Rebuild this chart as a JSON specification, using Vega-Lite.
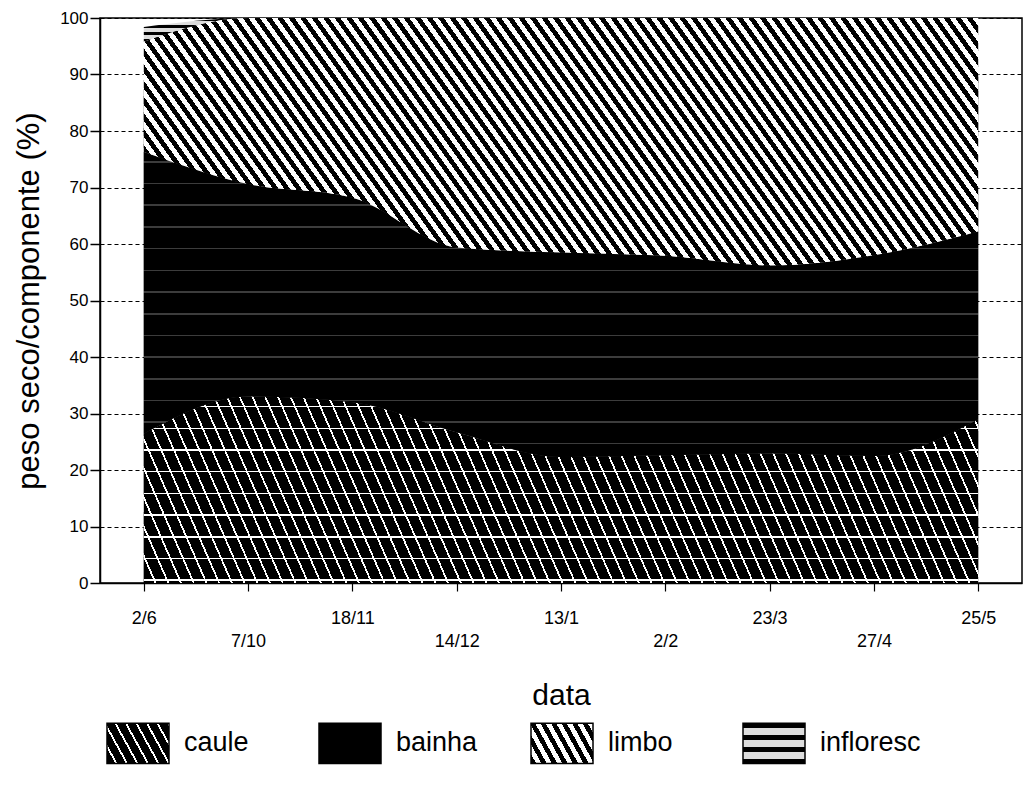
{
"$schema": "https://vega.github.io/schema/vega-lite/v6.json",
"width": 922,
"height": 565,
"autosize": {"type": "none"},
"padding": {"left": 100, "top": 18, "right": 5, "bottom": 214},
"background": "white",
"config": {
  "font": "Liberation Sans",
  "view": {"stroke": "black", "strokeWidth": 1.5},
  "axis": {"labelColor": "black", "titleColor": "black", "domainColor": "black", "tickColor": "black", "titleFontWeight": "normal", "labelFont": "Liberation Sans", "titleFont": "Liberation Sans"}
},
"data": {"values": [
  {"data": "2/6", "componente": "caule", "ordem": 1, "valor": 26.4},
  {"data": "2/6", "componente": "bainha", "ordem": 2, "valor": 49.9},
  {"data": "2/6", "componente": "limbo", "ordem": 3, "valor": 19.5},
  {"data": "2/6", "componente": "infloresc", "ordem": 4, "valor": 2.6},
  {"data": "7/10", "componente": "caule", "ordem": 1, "valor": 33.0},
  {"data": "7/10", "componente": "bainha", "ordem": 2, "valor": 37.6},
  {"data": "7/10", "componente": "limbo", "ordem": 3, "valor": 29.4},
  {"data": "7/10", "componente": "infloresc", "ordem": 4, "valor": 0},
  {"data": "18/11", "componente": "caule", "ordem": 1, "valor": 32.0},
  {"data": "18/11", "componente": "bainha", "ordem": 2, "valor": 36.2},
  {"data": "18/11", "componente": "limbo", "ordem": 3, "valor": 31.8},
  {"data": "18/11", "componente": "infloresc", "ordem": 4, "valor": 0},
  {"data": "14/12", "componente": "caule", "ordem": 1, "valor": 26.7},
  {"data": "14/12", "componente": "bainha", "ordem": 2, "valor": 32.7},
  {"data": "14/12", "componente": "limbo", "ordem": 3, "valor": 40.6},
  {"data": "14/12", "componente": "infloresc", "ordem": 4, "valor": 0},
  {"data": "13/1", "componente": "caule", "ordem": 1, "valor": 22.3},
  {"data": "13/1", "componente": "bainha", "ordem": 2, "valor": 36.2},
  {"data": "13/1", "componente": "limbo", "ordem": 3, "valor": 41.5},
  {"data": "13/1", "componente": "infloresc", "ordem": 4, "valor": 0},
  {"data": "2/2", "componente": "caule", "ordem": 1, "valor": 22.6},
  {"data": "2/2", "componente": "bainha", "ordem": 2, "valor": 35.3},
  {"data": "2/2", "componente": "limbo", "ordem": 3, "valor": 42.1},
  {"data": "2/2", "componente": "infloresc", "ordem": 4, "valor": 0},
  {"data": "23/3", "componente": "caule", "ordem": 1, "valor": 22.9},
  {"data": "23/3", "componente": "bainha", "ordem": 2, "valor": 33.3},
  {"data": "23/3", "componente": "limbo", "ordem": 3, "valor": 43.8},
  {"data": "23/3", "componente": "infloresc", "ordem": 4, "valor": 0},
  {"data": "27/4", "componente": "caule", "ordem": 1, "valor": 22.5},
  {"data": "27/4", "componente": "bainha", "ordem": 2, "valor": 35.5},
  {"data": "27/4", "componente": "limbo", "ordem": 3, "valor": 42.0},
  {"data": "27/4", "componente": "infloresc", "ordem": 4, "valor": 0},
  {"data": "25/5", "componente": "caule", "ordem": 1, "valor": 29.0},
  {"data": "25/5", "componente": "bainha", "ordem": 2, "valor": 33.2},
  {"data": "25/5", "componente": "limbo", "ordem": 3, "valor": 37.8},
  {"data": "25/5", "componente": "infloresc", "ordem": 4, "valor": 0}
]},
"transform": [{"stack": "valor", "groupby": ["data"], "sort": [{"field": "ordem", "order": "ascending"}], "as": ["v0", "v1"]}],
"encoding": {
  "x": {"field": "data", "type": "ordinal", "sort": ["2/6", "7/10", "18/11", "14/12", "13/1", "2/2", "23/3", "27/4", "25/5"], "scale": {"padding": 0.42},
    "axis": {"title": "data", "labelAngle": 0, "labelExpr": "indexof(['7/10','14/12','2/2','27/4'], datum.value) >= 0 ? ['', datum.value] : datum.value", "labelLineHeight": 23, "labelFontSize": 18, "labelPadding": 18, "tickSize": 8, "tickWidth": 1.2, "domainWidth": 1.5, "titleFontSize": 30, "titlePadding": 30, "labelBaseline": "top"}},
  "y": {"field": "v1", "type": "quantitative", "scale": {"domain": [0, 100], "nice": false},
    "axis": {"title": "peso seco/componente (%)", "values": [0, 10, 20, 30, 40, 50, 60, 70, 80, 90, 100], "grid": true, "gridColor": "black", "gridDash": [4, 3], "gridWidth": 1.2, "gridOpacity": 1, "tickSize": 10, "tickWidth": 1.5, "labelFontSize": 17, "labelPadding": 2, "domainWidth": 1.5, "titleFontSize": 31, "titlePadding": 14}},
  "y2": {"field": "v0"}
},
"layer": [
  {"mark": {"type": "area", "interpolate": "monotone"},
   "encoding": {"color": {"field": "componente", "type": "nominal", "scale": {"domain": ["caule", "bainha", "limbo", "infloresc"], "range": [
      {"expr": "{gradient:'linear',x1:0,y1:1,x2:1.204,y2:0.57,stops:[{offset:0,color:'#000'},{offset:0.1,color:'#000'},{offset:0.1,color:'#fff'},{offset:0.125,color:'#fff'},{offset:0.125,color:'#000'},{offset:0.225,color:'#000'},{offset:0.225,color:'#fff'},{offset:0.25,color:'#fff'},{offset:0.25,color:'#000'},{offset:0.35,color:'#000'},{offset:0.35,color:'#fff'},{offset:0.375,color:'#fff'},{offset:0.375,color:'#000'},{offset:0.475,color:'#000'},{offset:0.475,color:'#fff'},{offset:0.5,color:'#fff'},{offset:0.5,color:'#000'},{offset:0.6,color:'#000'},{offset:0.6,color:'#fff'},{offset:0.625,color:'#fff'},{offset:0.625,color:'#000'},{offset:0.725,color:'#000'},{offset:0.725,color:'#fff'},{offset:0.75,color:'#fff'},{offset:0.75,color:'#000'},{offset:0.85,color:'#000'},{offset:0.85,color:'#fff'},{offset:0.875,color:'#fff'},{offset:0.875,color:'#000'},{offset:0.975,color:'#000'},{offset:0.975,color:'#fff'},{offset:1,color:'#fff'}]}"},
      "#000000",
      {"expr": "{gradient:'linear',x1:0,y1:1,x2:1.204,y2:0.57,stops:[{offset:0,color:'#000'},{offset:0.0625,color:'#000'},{offset:0.0625,color:'#fff'},{offset:0.125,color:'#fff'},{offset:0.125,color:'#000'},{offset:0.1875,color:'#000'},{offset:0.1875,color:'#fff'},{offset:0.25,color:'#fff'},{offset:0.25,color:'#000'},{offset:0.3125,color:'#000'},{offset:0.3125,color:'#fff'},{offset:0.375,color:'#fff'},{offset:0.375,color:'#000'},{offset:0.4375,color:'#000'},{offset:0.4375,color:'#fff'},{offset:0.5,color:'#fff'},{offset:0.5,color:'#000'},{offset:0.5625,color:'#000'},{offset:0.5625,color:'#fff'},{offset:0.625,color:'#fff'},{offset:0.625,color:'#000'},{offset:0.6875,color:'#000'},{offset:0.6875,color:'#fff'},{offset:0.75,color:'#fff'},{offset:0.75,color:'#000'},{offset:0.8125,color:'#000'},{offset:0.8125,color:'#fff'},{offset:0.875,color:'#fff'},{offset:0.875,color:'#000'},{offset:0.9375,color:'#000'},{offset:0.9375,color:'#fff'},{offset:1,color:'#fff'}]}"},
      {"expr": "{gradient:'linear',x1:0,y1:0,x2:0,y2:1,stops:[{offset:0,color:'#000'},{offset:0.12,color:'#000'},{offset:0.12,color:'#ddd'},{offset:0.28,color:'#ddd'},{offset:0.28,color:'#000'},{offset:0.42,color:'#000'},{offset:0.42,color:'#ddd'},{offset:0.58,color:'#ddd'},{offset:0.58,color:'#000'},{offset:0.72,color:'#000'},{offset:0.72,color:'#ddd'},{offset:0.88,color:'#ddd'},{offset:0.88,color:'#000'},{offset:1,color:'#000'}]}"}
   ]},
     "legend": {"title": null, "orient": "none", "legendX": 6, "legendY": 693, "direction": "horizontal", "symbolType": "M-1,-0.65H1V0.65H-1Z", "symbolSize": 3844, "symbolStrokeColor": "black", "symbolStrokeWidth": 1.5, "symbolOpacity": 1, "labelFontSize": 27, "labelOffset": 14, "columnPadding": 31, "gridAlign": "all", "labelColor": "black", "padding": 0}}}},
  {"transform": [{"filter": "datum.componente === 'caule'"}],
   "mark": {"type": "area", "interpolate": "monotone", "fill": {"gradient": "linear", "x1": 0, "y1": 1, "x2": 1.51, "y2": 0.853, "stops": [
{"offset":0,"color":"#000"},
{"offset":0.0085,"color":"#000"},{"offset":0.0085,"color":"#fff"},{"offset":0.01,"color":"#fff"},{"offset":0.01,"color":"#000"},
{"offset":0.0185,"color":"#000"},{"offset":0.0185,"color":"#fff"},{"offset":0.02,"color":"#fff"},{"offset":0.02,"color":"#000"},
{"offset":0.0285,"color":"#000"},{"offset":0.0285,"color":"#fff"},{"offset":0.03,"color":"#fff"},{"offset":0.03,"color":"#000"},
{"offset":0.0385,"color":"#000"},{"offset":0.0385,"color":"#fff"},{"offset":0.04,"color":"#fff"},{"offset":0.04,"color":"#000"},
{"offset":0.0485,"color":"#000"},{"offset":0.0485,"color":"#fff"},{"offset":0.05,"color":"#fff"},{"offset":0.05,"color":"#000"},
{"offset":0.0585,"color":"#000"},{"offset":0.0585,"color":"#fff"},{"offset":0.06,"color":"#fff"},{"offset":0.06,"color":"#000"},
{"offset":0.0685,"color":"#000"},{"offset":0.0685,"color":"#fff"},{"offset":0.07,"color":"#fff"},{"offset":0.07,"color":"#000"},
{"offset":0.0785,"color":"#000"},{"offset":0.0785,"color":"#fff"},{"offset":0.08,"color":"#fff"},{"offset":0.08,"color":"#000"},
{"offset":0.0885,"color":"#000"},{"offset":0.0885,"color":"#fff"},{"offset":0.09,"color":"#fff"},{"offset":0.09,"color":"#000"},
{"offset":0.0985,"color":"#000"},{"offset":0.0985,"color":"#fff"},{"offset":0.1,"color":"#fff"},{"offset":0.1,"color":"#000"},
{"offset":0.1085,"color":"#000"},{"offset":0.1085,"color":"#fff"},{"offset":0.11,"color":"#fff"},{"offset":0.11,"color":"#000"},
{"offset":0.1185,"color":"#000"},{"offset":0.1185,"color":"#fff"},{"offset":0.12,"color":"#fff"},{"offset":0.12,"color":"#000"},
{"offset":0.1285,"color":"#000"},{"offset":0.1285,"color":"#fff"},{"offset":0.13,"color":"#fff"},{"offset":0.13,"color":"#000"},
{"offset":0.1385,"color":"#000"},{"offset":0.1385,"color":"#fff"},{"offset":0.14,"color":"#fff"},{"offset":0.14,"color":"#000"},
{"offset":0.1485,"color":"#000"},{"offset":0.1485,"color":"#fff"},{"offset":0.15,"color":"#fff"},{"offset":0.15,"color":"#000"},
{"offset":0.1585,"color":"#000"},{"offset":0.1585,"color":"#fff"},{"offset":0.16,"color":"#fff"},{"offset":0.16,"color":"#000"},
{"offset":0.1685,"color":"#000"},{"offset":0.1685,"color":"#fff"},{"offset":0.17,"color":"#fff"},{"offset":0.17,"color":"#000"},
{"offset":0.1785,"color":"#000"},{"offset":0.1785,"color":"#fff"},{"offset":0.18,"color":"#fff"},{"offset":0.18,"color":"#000"},
{"offset":0.1885,"color":"#000"},{"offset":0.1885,"color":"#fff"},{"offset":0.19,"color":"#fff"},{"offset":0.19,"color":"#000"},
{"offset":0.1985,"color":"#000"},{"offset":0.1985,"color":"#fff"},{"offset":0.2,"color":"#fff"},{"offset":0.2,"color":"#000"},
{"offset":0.2085,"color":"#000"},{"offset":0.2085,"color":"#fff"},{"offset":0.21,"color":"#fff"},{"offset":0.21,"color":"#000"},
{"offset":0.2185,"color":"#000"},{"offset":0.2185,"color":"#fff"},{"offset":0.22,"color":"#fff"},{"offset":0.22,"color":"#000"},
{"offset":0.2285,"color":"#000"},{"offset":0.2285,"color":"#fff"},{"offset":0.23,"color":"#fff"},{"offset":0.23,"color":"#000"},
{"offset":0.2385,"color":"#000"},{"offset":0.2385,"color":"#fff"},{"offset":0.24,"color":"#fff"},{"offset":0.24,"color":"#000"},
{"offset":0.2485,"color":"#000"},{"offset":0.2485,"color":"#fff"},{"offset":0.25,"color":"#fff"},{"offset":0.25,"color":"#000"},
{"offset":0.2585,"color":"#000"},{"offset":0.2585,"color":"#fff"},{"offset":0.26,"color":"#fff"},{"offset":0.26,"color":"#000"},
{"offset":0.2685,"color":"#000"},{"offset":0.2685,"color":"#fff"},{"offset":0.27,"color":"#fff"},{"offset":0.27,"color":"#000"},
{"offset":0.2785,"color":"#000"},{"offset":0.2785,"color":"#fff"},{"offset":0.28,"color":"#fff"},{"offset":0.28,"color":"#000"},
{"offset":0.2885,"color":"#000"},{"offset":0.2885,"color":"#fff"},{"offset":0.29,"color":"#fff"},{"offset":0.29,"color":"#000"},
{"offset":0.2985,"color":"#000"},{"offset":0.2985,"color":"#fff"},{"offset":0.3,"color":"#fff"},{"offset":0.3,"color":"#000"},
{"offset":0.3085,"color":"#000"},{"offset":0.3085,"color":"#fff"},{"offset":0.31,"color":"#fff"},{"offset":0.31,"color":"#000"},
{"offset":0.3185,"color":"#000"},{"offset":0.3185,"color":"#fff"},{"offset":0.32,"color":"#fff"},{"offset":0.32,"color":"#000"},
{"offset":0.3285,"color":"#000"},{"offset":0.3285,"color":"#fff"},{"offset":0.33,"color":"#fff"},{"offset":0.33,"color":"#000"},
{"offset":0.3385,"color":"#000"},{"offset":0.3385,"color":"#fff"},{"offset":0.34,"color":"#fff"},{"offset":0.34,"color":"#000"},
{"offset":0.3485,"color":"#000"},{"offset":0.3485,"color":"#fff"},{"offset":0.35,"color":"#fff"},{"offset":0.35,"color":"#000"},
{"offset":0.3585,"color":"#000"},{"offset":0.3585,"color":"#fff"},{"offset":0.36,"color":"#fff"},{"offset":0.36,"color":"#000"},
{"offset":0.3685,"color":"#000"},{"offset":0.3685,"color":"#fff"},{"offset":0.37,"color":"#fff"},{"offset":0.37,"color":"#000"},
{"offset":0.3785,"color":"#000"},{"offset":0.3785,"color":"#fff"},{"offset":0.38,"color":"#fff"},{"offset":0.38,"color":"#000"},
{"offset":0.3885,"color":"#000"},{"offset":0.3885,"color":"#fff"},{"offset":0.39,"color":"#fff"},{"offset":0.39,"color":"#000"},
{"offset":0.3985,"color":"#000"},{"offset":0.3985,"color":"#fff"},{"offset":0.4,"color":"#fff"},{"offset":0.4,"color":"#000"},
{"offset":0.4085,"color":"#000"},{"offset":0.4085,"color":"#fff"},{"offset":0.41,"color":"#fff"},{"offset":0.41,"color":"#000"},
{"offset":0.4185,"color":"#000"},{"offset":0.4185,"color":"#fff"},{"offset":0.42,"color":"#fff"},{"offset":0.42,"color":"#000"},
{"offset":0.4285,"color":"#000"},{"offset":0.4285,"color":"#fff"},{"offset":0.43,"color":"#fff"},{"offset":0.43,"color":"#000"},
{"offset":0.4385,"color":"#000"},{"offset":0.4385,"color":"#fff"},{"offset":0.44,"color":"#fff"},{"offset":0.44,"color":"#000"},
{"offset":0.4485,"color":"#000"},{"offset":0.4485,"color":"#fff"},{"offset":0.45,"color":"#fff"},{"offset":0.45,"color":"#000"},
{"offset":0.4585,"color":"#000"},{"offset":0.4585,"color":"#fff"},{"offset":0.46,"color":"#fff"},{"offset":0.46,"color":"#000"},
{"offset":0.4685,"color":"#000"},{"offset":0.4685,"color":"#fff"},{"offset":0.47,"color":"#fff"},{"offset":0.47,"color":"#000"},
{"offset":0.4785,"color":"#000"},{"offset":0.4785,"color":"#fff"},{"offset":0.48,"color":"#fff"},{"offset":0.48,"color":"#000"},
{"offset":0.4885,"color":"#000"},{"offset":0.4885,"color":"#fff"},{"offset":0.49,"color":"#fff"},{"offset":0.49,"color":"#000"},
{"offset":0.4985,"color":"#000"},{"offset":0.4985,"color":"#fff"},{"offset":0.5,"color":"#fff"},{"offset":0.5,"color":"#000"},
{"offset":0.5085,"color":"#000"},{"offset":0.5085,"color":"#fff"},{"offset":0.51,"color":"#fff"},{"offset":0.51,"color":"#000"},
{"offset":0.5185,"color":"#000"},{"offset":0.5185,"color":"#fff"},{"offset":0.52,"color":"#fff"},{"offset":0.52,"color":"#000"},
{"offset":0.5285,"color":"#000"},{"offset":0.5285,"color":"#fff"},{"offset":0.53,"color":"#fff"},{"offset":0.53,"color":"#000"},
{"offset":0.5385,"color":"#000"},{"offset":0.5385,"color":"#fff"},{"offset":0.54,"color":"#fff"},{"offset":0.54,"color":"#000"},
{"offset":0.5485,"color":"#000"},{"offset":0.5485,"color":"#fff"},{"offset":0.55,"color":"#fff"},{"offset":0.55,"color":"#000"},
{"offset":0.5585,"color":"#000"},{"offset":0.5585,"color":"#fff"},{"offset":0.56,"color":"#fff"},{"offset":0.56,"color":"#000"},
{"offset":0.5685,"color":"#000"},{"offset":0.5685,"color":"#fff"},{"offset":0.57,"color":"#fff"},{"offset":0.57,"color":"#000"},
{"offset":0.5785,"color":"#000"},{"offset":0.5785,"color":"#fff"},{"offset":0.58,"color":"#fff"},{"offset":0.58,"color":"#000"},
{"offset":0.5885,"color":"#000"},{"offset":0.5885,"color":"#fff"},{"offset":0.59,"color":"#fff"},{"offset":0.59,"color":"#000"},
{"offset":0.5985,"color":"#000"},{"offset":0.5985,"color":"#fff"},{"offset":0.6,"color":"#fff"},{"offset":0.6,"color":"#000"},
{"offset":0.6085,"color":"#000"},{"offset":0.6085,"color":"#fff"},{"offset":0.61,"color":"#fff"},{"offset":0.61,"color":"#000"},
{"offset":0.6185,"color":"#000"},{"offset":0.6185,"color":"#fff"},{"offset":0.62,"color":"#fff"},{"offset":0.62,"color":"#000"},
{"offset":0.6285,"color":"#000"},{"offset":0.6285,"color":"#fff"},{"offset":0.63,"color":"#fff"},{"offset":0.63,"color":"#000"},
{"offset":0.6385,"color":"#000"},{"offset":0.6385,"color":"#fff"},{"offset":0.64,"color":"#fff"},{"offset":0.64,"color":"#000"},
{"offset":0.6485,"color":"#000"},{"offset":0.6485,"color":"#fff"},{"offset":0.65,"color":"#fff"},{"offset":0.65,"color":"#000"},
{"offset":0.6585,"color":"#000"},{"offset":0.6585,"color":"#fff"},{"offset":0.66,"color":"#fff"},{"offset":0.66,"color":"#000"},
{"offset":0.6685,"color":"#000"},{"offset":0.6685,"color":"#fff"},{"offset":0.67,"color":"#fff"},{"offset":0.67,"color":"#000"},
{"offset":0.6785,"color":"#000"},{"offset":0.6785,"color":"#fff"},{"offset":0.68,"color":"#fff"},{"offset":0.68,"color":"#000"},
{"offset":0.6885,"color":"#000"},{"offset":0.6885,"color":"#fff"},{"offset":0.69,"color":"#fff"},{"offset":0.69,"color":"#000"},
{"offset":0.6985,"color":"#000"},{"offset":0.6985,"color":"#fff"},{"offset":0.7,"color":"#fff"},{"offset":0.7,"color":"#000"},
{"offset":0.7085,"color":"#000"},{"offset":0.7085,"color":"#fff"},{"offset":0.71,"color":"#fff"},{"offset":0.71,"color":"#000"},
{"offset":0.7185,"color":"#000"},{"offset":0.7185,"color":"#fff"},{"offset":0.72,"color":"#fff"},{"offset":0.72,"color":"#000"},
{"offset":0.7285,"color":"#000"},{"offset":0.7285,"color":"#fff"},{"offset":0.73,"color":"#fff"},{"offset":0.73,"color":"#000"},
{"offset":1,"color":"#000"}
   ]}}},
  {"transform": [{"filter": "datum.componente === 'caule'"}],
   "mark": {"type": "area", "interpolate": "monotone", "fill": {"gradient": "linear", "x1": 0, "y1": 0, "x2": 0, "y2": 1, "stops": [
{"offset":0,"color":"rgba(255,255,255,0)"},
{"offset":0.05,"color":"rgba(255,255,255,0)"},{"offset":0.05,"color":"#fff"},{"offset":0.058,"color":"#fff"},{"offset":0.058,"color":"rgba(255,255,255,0)"},
{"offset":0.1664,"color":"rgba(255,255,255,0)"},{"offset":0.1664,"color":"#fff"},{"offset":0.1744,"color":"#fff"},{"offset":0.1744,"color":"rgba(255,255,255,0)"},
{"offset":0.2828,"color":"rgba(255,255,255,0)"},{"offset":0.2828,"color":"#fff"},{"offset":0.2908,"color":"#fff"},{"offset":0.2908,"color":"rgba(255,255,255,0)"},
{"offset":0.3992,"color":"rgba(255,255,255,0)"},{"offset":0.3992,"color":"#fff"},{"offset":0.4072,"color":"#fff"},{"offset":0.4072,"color":"rgba(255,255,255,0)"},
{"offset":0.5156,"color":"rgba(255,255,255,0)"},{"offset":0.5156,"color":"#fff"},{"offset":0.5236,"color":"#fff"},{"offset":0.5236,"color":"rgba(255,255,255,0)"},
{"offset":0.632,"color":"rgba(255,255,255,0)"},{"offset":0.632,"color":"#fff"},{"offset":0.64,"color":"#fff"},{"offset":0.64,"color":"rgba(255,255,255,0)"},
{"offset":0.7484,"color":"rgba(255,255,255,0)"},{"offset":0.7484,"color":"#fff"},{"offset":0.7564,"color":"#fff"},{"offset":0.7564,"color":"rgba(255,255,255,0)"},
{"offset":0.8648,"color":"rgba(255,255,255,0)"},{"offset":0.8648,"color":"#fff"},{"offset":0.8728,"color":"#fff"},{"offset":0.8728,"color":"rgba(255,255,255,0)"},
{"offset":0.9812,"color":"rgba(255,255,255,0)"},{"offset":0.9812,"color":"#fff"},{"offset":0.9892,"color":"#fff"},{"offset":0.9892,"color":"rgba(255,255,255,0)"},
{"offset":1,"color":"rgba(255,255,255,0)"}
   ]}}},
  {"transform": [{"filter": "datum.componente === 'bainha'"}],
   "mark": {"type": "area", "interpolate": "monotone", "fill": {"gradient": "linear", "x1": 0, "y1": 0, "x2": 0, "y2": 1, "stops": [
{"offset":0,"color":"#000"},
{"offset":0.03,"color":"#000"},{"offset":0.03,"color":"#3c3c3c"},{"offset":0.035,"color":"#3c3c3c"},{"offset":0.035,"color":"#000"},
{"offset":0.101,"color":"#000"},{"offset":0.101,"color":"#3c3c3c"},{"offset":0.106,"color":"#3c3c3c"},{"offset":0.106,"color":"#000"},
{"offset":0.172,"color":"#000"},{"offset":0.172,"color":"#3c3c3c"},{"offset":0.177,"color":"#3c3c3c"},{"offset":0.177,"color":"#000"},
{"offset":0.243,"color":"#000"},{"offset":0.243,"color":"#3c3c3c"},{"offset":0.248,"color":"#3c3c3c"},{"offset":0.248,"color":"#000"},
{"offset":0.314,"color":"#000"},{"offset":0.314,"color":"#3c3c3c"},{"offset":0.319,"color":"#3c3c3c"},{"offset":0.319,"color":"#000"},
{"offset":0.386,"color":"#000"},{"offset":0.386,"color":"#3c3c3c"},{"offset":0.391,"color":"#3c3c3c"},{"offset":0.391,"color":"#000"},
{"offset":0.457,"color":"#000"},{"offset":0.457,"color":"#3c3c3c"},{"offset":0.462,"color":"#3c3c3c"},{"offset":0.462,"color":"#000"},
{"offset":0.528,"color":"#000"},{"offset":0.528,"color":"#3c3c3c"},{"offset":0.533,"color":"#3c3c3c"},{"offset":0.533,"color":"#000"},
{"offset":0.599,"color":"#000"},{"offset":0.599,"color":"#3c3c3c"},{"offset":0.604,"color":"#3c3c3c"},{"offset":0.604,"color":"#000"},
{"offset":0.67,"color":"#000"},{"offset":0.67,"color":"#3c3c3c"},{"offset":0.675,"color":"#3c3c3c"},{"offset":0.675,"color":"#000"},
{"offset":0.741,"color":"#000"},{"offset":0.741,"color":"#3c3c3c"},{"offset":0.746,"color":"#3c3c3c"},{"offset":0.746,"color":"#000"},
{"offset":0.812,"color":"#000"},{"offset":0.812,"color":"#3c3c3c"},{"offset":0.817,"color":"#3c3c3c"},{"offset":0.817,"color":"#000"},
{"offset":0.883,"color":"#000"},{"offset":0.883,"color":"#3c3c3c"},{"offset":0.888,"color":"#3c3c3c"},{"offset":0.888,"color":"#000"},
{"offset":0.954,"color":"#000"},{"offset":0.954,"color":"#3c3c3c"},{"offset":0.959,"color":"#3c3c3c"},{"offset":0.959,"color":"#000"},
{"offset":1,"color":"#000"}
   ]}}},
  {"transform": [{"filter": "datum.componente === 'limbo'"}],
   "mark": {"type": "area", "interpolate": "monotone", "fill": {"gradient": "linear", "x1": 0, "y1": 1, "x2": 1.318, "y2": 0.7206, "stops": [
{"offset":0,"color":"#000"},
{"offset":0.005,"color":"#000"},{"offset":0.005,"color":"#fff"},{"offset":0.01,"color":"#fff"},{"offset":0.01,"color":"#000"},
{"offset":0.015,"color":"#000"},{"offset":0.015,"color":"#fff"},{"offset":0.02,"color":"#fff"},{"offset":0.02,"color":"#000"},
{"offset":0.025,"color":"#000"},{"offset":0.025,"color":"#fff"},{"offset":0.03,"color":"#fff"},{"offset":0.03,"color":"#000"},
{"offset":0.035,"color":"#000"},{"offset":0.035,"color":"#fff"},{"offset":0.04,"color":"#fff"},{"offset":0.04,"color":"#000"},
{"offset":0.045,"color":"#000"},{"offset":0.045,"color":"#fff"},{"offset":0.05,"color":"#fff"},{"offset":0.05,"color":"#000"},
{"offset":0.055,"color":"#000"},{"offset":0.055,"color":"#fff"},{"offset":0.06,"color":"#fff"},{"offset":0.06,"color":"#000"},
{"offset":0.065,"color":"#000"},{"offset":0.065,"color":"#fff"},{"offset":0.07,"color":"#fff"},{"offset":0.07,"color":"#000"},
{"offset":0.075,"color":"#000"},{"offset":0.075,"color":"#fff"},{"offset":0.08,"color":"#fff"},{"offset":0.08,"color":"#000"},
{"offset":0.085,"color":"#000"},{"offset":0.085,"color":"#fff"},{"offset":0.09,"color":"#fff"},{"offset":0.09,"color":"#000"},
{"offset":0.095,"color":"#000"},{"offset":0.095,"color":"#fff"},{"offset":0.1,"color":"#fff"},{"offset":0.1,"color":"#000"},
{"offset":0.105,"color":"#000"},{"offset":0.105,"color":"#fff"},{"offset":0.11,"color":"#fff"},{"offset":0.11,"color":"#000"},
{"offset":0.115,"color":"#000"},{"offset":0.115,"color":"#fff"},{"offset":0.12,"color":"#fff"},{"offset":0.12,"color":"#000"},
{"offset":0.125,"color":"#000"},{"offset":0.125,"color":"#fff"},{"offset":0.13,"color":"#fff"},{"offset":0.13,"color":"#000"},
{"offset":0.135,"color":"#000"},{"offset":0.135,"color":"#fff"},{"offset":0.14,"color":"#fff"},{"offset":0.14,"color":"#000"},
{"offset":0.145,"color":"#000"},{"offset":0.145,"color":"#fff"},{"offset":0.15,"color":"#fff"},{"offset":0.15,"color":"#000"},
{"offset":0.155,"color":"#000"},{"offset":0.155,"color":"#fff"},{"offset":0.16,"color":"#fff"},{"offset":0.16,"color":"#000"},
{"offset":0.165,"color":"#000"},{"offset":0.165,"color":"#fff"},{"offset":0.17,"color":"#fff"},{"offset":0.17,"color":"#000"},
{"offset":0.175,"color":"#000"},{"offset":0.175,"color":"#fff"},{"offset":0.18,"color":"#fff"},{"offset":0.18,"color":"#000"},
{"offset":0.185,"color":"#000"},{"offset":0.185,"color":"#fff"},{"offset":0.19,"color":"#fff"},{"offset":0.19,"color":"#000"},
{"offset":0.195,"color":"#000"},{"offset":0.195,"color":"#fff"},{"offset":0.2,"color":"#fff"},{"offset":0.2,"color":"#000"},
{"offset":0.205,"color":"#000"},{"offset":0.205,"color":"#fff"},{"offset":0.21,"color":"#fff"},{"offset":0.21,"color":"#000"},
{"offset":0.215,"color":"#000"},{"offset":0.215,"color":"#fff"},{"offset":0.22,"color":"#fff"},{"offset":0.22,"color":"#000"},
{"offset":0.225,"color":"#000"},{"offset":0.225,"color":"#fff"},{"offset":0.23,"color":"#fff"},{"offset":0.23,"color":"#000"},
{"offset":0.235,"color":"#000"},{"offset":0.235,"color":"#fff"},{"offset":0.24,"color":"#fff"},{"offset":0.24,"color":"#000"},
{"offset":0.245,"color":"#000"},{"offset":0.245,"color":"#fff"},{"offset":0.25,"color":"#fff"},{"offset":0.25,"color":"#000"},
{"offset":0.255,"color":"#000"},{"offset":0.255,"color":"#fff"},{"offset":0.26,"color":"#fff"},{"offset":0.26,"color":"#000"},
{"offset":0.265,"color":"#000"},{"offset":0.265,"color":"#fff"},{"offset":0.27,"color":"#fff"},{"offset":0.27,"color":"#000"},
{"offset":0.275,"color":"#000"},{"offset":0.275,"color":"#fff"},{"offset":0.28,"color":"#fff"},{"offset":0.28,"color":"#000"},
{"offset":0.285,"color":"#000"},{"offset":0.285,"color":"#fff"},{"offset":0.29,"color":"#fff"},{"offset":0.29,"color":"#000"},
{"offset":0.295,"color":"#000"},{"offset":0.295,"color":"#fff"},{"offset":0.3,"color":"#fff"},{"offset":0.3,"color":"#000"},
{"offset":0.305,"color":"#000"},{"offset":0.305,"color":"#fff"},{"offset":0.31,"color":"#fff"},{"offset":0.31,"color":"#000"},
{"offset":0.315,"color":"#000"},{"offset":0.315,"color":"#fff"},{"offset":0.32,"color":"#fff"},{"offset":0.32,"color":"#000"},
{"offset":0.325,"color":"#000"},{"offset":0.325,"color":"#fff"},{"offset":0.33,"color":"#fff"},{"offset":0.33,"color":"#000"},
{"offset":0.335,"color":"#000"},{"offset":0.335,"color":"#fff"},{"offset":0.34,"color":"#fff"},{"offset":0.34,"color":"#000"},
{"offset":0.345,"color":"#000"},{"offset":0.345,"color":"#fff"},{"offset":0.35,"color":"#fff"},{"offset":0.35,"color":"#000"},
{"offset":0.355,"color":"#000"},{"offset":0.355,"color":"#fff"},{"offset":0.36,"color":"#fff"},{"offset":0.36,"color":"#000"},
{"offset":0.365,"color":"#000"},{"offset":0.365,"color":"#fff"},{"offset":0.37,"color":"#fff"},{"offset":0.37,"color":"#000"},
{"offset":0.375,"color":"#000"},{"offset":0.375,"color":"#fff"},{"offset":0.38,"color":"#fff"},{"offset":0.38,"color":"#000"},
{"offset":0.385,"color":"#000"},{"offset":0.385,"color":"#fff"},{"offset":0.39,"color":"#fff"},{"offset":0.39,"color":"#000"},
{"offset":0.395,"color":"#000"},{"offset":0.395,"color":"#fff"},{"offset":0.4,"color":"#fff"},{"offset":0.4,"color":"#000"},
{"offset":0.405,"color":"#000"},{"offset":0.405,"color":"#fff"},{"offset":0.41,"color":"#fff"},{"offset":0.41,"color":"#000"},
{"offset":0.415,"color":"#000"},{"offset":0.415,"color":"#fff"},{"offset":0.42,"color":"#fff"},{"offset":0.42,"color":"#000"},
{"offset":0.425,"color":"#000"},{"offset":0.425,"color":"#fff"},{"offset":0.43,"color":"#fff"},{"offset":0.43,"color":"#000"},
{"offset":0.435,"color":"#000"},{"offset":0.435,"color":"#fff"},{"offset":0.44,"color":"#fff"},{"offset":0.44,"color":"#000"},
{"offset":0.445,"color":"#000"},{"offset":0.445,"color":"#fff"},{"offset":0.45,"color":"#fff"},{"offset":0.45,"color":"#000"},
{"offset":0.455,"color":"#000"},{"offset":0.455,"color":"#fff"},{"offset":0.46,"color":"#fff"},{"offset":0.46,"color":"#000"},
{"offset":0.465,"color":"#000"},{"offset":0.465,"color":"#fff"},{"offset":0.47,"color":"#fff"},{"offset":0.47,"color":"#000"},
{"offset":0.475,"color":"#000"},{"offset":0.475,"color":"#fff"},{"offset":0.48,"color":"#fff"},{"offset":0.48,"color":"#000"},
{"offset":0.485,"color":"#000"},{"offset":0.485,"color":"#fff"},{"offset":0.49,"color":"#fff"},{"offset":0.49,"color":"#000"},
{"offset":0.495,"color":"#000"},{"offset":0.495,"color":"#fff"},{"offset":0.5,"color":"#fff"},{"offset":0.5,"color":"#000"},
{"offset":0.505,"color":"#000"},{"offset":0.505,"color":"#fff"},{"offset":0.51,"color":"#fff"},{"offset":0.51,"color":"#000"},
{"offset":0.515,"color":"#000"},{"offset":0.515,"color":"#fff"},{"offset":0.52,"color":"#fff"},{"offset":0.52,"color":"#000"},
{"offset":0.525,"color":"#000"},{"offset":0.525,"color":"#fff"},{"offset":0.53,"color":"#fff"},{"offset":0.53,"color":"#000"},
{"offset":0.535,"color":"#000"},{"offset":0.535,"color":"#fff"},{"offset":0.54,"color":"#fff"},{"offset":0.54,"color":"#000"},
{"offset":0.545,"color":"#000"},{"offset":0.545,"color":"#fff"},{"offset":0.55,"color":"#fff"},{"offset":0.55,"color":"#000"},
{"offset":0.555,"color":"#000"},{"offset":0.555,"color":"#fff"},{"offset":0.56,"color":"#fff"},{"offset":0.56,"color":"#000"},
{"offset":0.565,"color":"#000"},{"offset":0.565,"color":"#fff"},{"offset":0.57,"color":"#fff"},{"offset":0.57,"color":"#000"},
{"offset":0.575,"color":"#000"},{"offset":0.575,"color":"#fff"},{"offset":0.58,"color":"#fff"},{"offset":0.58,"color":"#000"},
{"offset":0.585,"color":"#000"},{"offset":0.585,"color":"#fff"},{"offset":0.59,"color":"#fff"},{"offset":0.59,"color":"#000"},
{"offset":0.595,"color":"#000"},{"offset":0.595,"color":"#fff"},{"offset":0.6,"color":"#fff"},{"offset":0.6,"color":"#000"},
{"offset":0.605,"color":"#000"},{"offset":0.605,"color":"#fff"},{"offset":0.61,"color":"#fff"},{"offset":0.61,"color":"#000"},
{"offset":0.615,"color":"#000"},{"offset":0.615,"color":"#fff"},{"offset":0.62,"color":"#fff"},{"offset":0.62,"color":"#000"},
{"offset":0.625,"color":"#000"},{"offset":0.625,"color":"#fff"},{"offset":0.63,"color":"#fff"},{"offset":0.63,"color":"#000"},
{"offset":0.635,"color":"#000"},{"offset":0.635,"color":"#fff"},{"offset":0.64,"color":"#fff"},{"offset":0.64,"color":"#000"},
{"offset":0.645,"color":"#000"},{"offset":0.645,"color":"#fff"},{"offset":0.65,"color":"#fff"},{"offset":0.65,"color":"#000"},
{"offset":0.655,"color":"#000"},{"offset":0.655,"color":"#fff"},{"offset":0.66,"color":"#fff"},{"offset":0.66,"color":"#000"},
{"offset":0.665,"color":"#000"},{"offset":0.665,"color":"#fff"},{"offset":0.67,"color":"#fff"},{"offset":0.67,"color":"#000"},
{"offset":0.675,"color":"#000"},{"offset":0.675,"color":"#fff"},{"offset":0.68,"color":"#fff"},{"offset":0.68,"color":"#000"},
{"offset":0.685,"color":"#000"},{"offset":0.685,"color":"#fff"},{"offset":0.69,"color":"#fff"},{"offset":0.69,"color":"#000"},
{"offset":0.695,"color":"#000"},{"offset":0.695,"color":"#fff"},{"offset":0.7,"color":"#fff"},{"offset":0.7,"color":"#000"},
{"offset":0.705,"color":"#000"},{"offset":0.705,"color":"#fff"},{"offset":0.71,"color":"#fff"},{"offset":0.71,"color":"#000"},
{"offset":0.715,"color":"#000"},{"offset":0.715,"color":"#fff"},{"offset":0.72,"color":"#fff"},{"offset":0.72,"color":"#000"},
{"offset":0.725,"color":"#000"},{"offset":0.725,"color":"#fff"},{"offset":0.73,"color":"#fff"},{"offset":0.73,"color":"#000"},
{"offset":0.735,"color":"#000"},{"offset":0.735,"color":"#fff"},{"offset":0.74,"color":"#fff"},{"offset":0.74,"color":"#000"},
{"offset":0.745,"color":"#000"},{"offset":0.745,"color":"#fff"},{"offset":0.75,"color":"#fff"},{"offset":0.75,"color":"#000"},
{"offset":0.755,"color":"#000"},{"offset":0.755,"color":"#fff"},{"offset":0.76,"color":"#fff"},{"offset":0.76,"color":"#000"},
{"offset":0.765,"color":"#000"},{"offset":0.765,"color":"#fff"},{"offset":0.77,"color":"#fff"},{"offset":0.77,"color":"#000"},
{"offset":0.775,"color":"#000"},{"offset":0.775,"color":"#fff"},{"offset":0.78,"color":"#fff"},{"offset":0.78,"color":"#000"},
{"offset":0.785,"color":"#000"},{"offset":0.785,"color":"#fff"},{"offset":0.79,"color":"#fff"},{"offset":0.79,"color":"#000"},
{"offset":0.795,"color":"#000"},{"offset":0.795,"color":"#fff"},{"offset":0.8,"color":"#fff"},{"offset":0.8,"color":"#000"},
{"offset":0.805,"color":"#000"},{"offset":0.805,"color":"#fff"},{"offset":0.81,"color":"#fff"},{"offset":0.81,"color":"#000"},
{"offset":0.815,"color":"#000"},{"offset":0.815,"color":"#fff"},{"offset":0.82,"color":"#fff"},{"offset":0.82,"color":"#000"},
{"offset":0.825,"color":"#000"},{"offset":0.825,"color":"#fff"},{"offset":0.83,"color":"#fff"},{"offset":0.83,"color":"#000"},
{"offset":0.835,"color":"#000"},{"offset":0.835,"color":"#fff"},{"offset":0.84,"color":"#fff"},{"offset":0.84,"color":"#000"},
{"offset":0.845,"color":"#000"},{"offset":0.845,"color":"#fff"},{"offset":0.85,"color":"#fff"},{"offset":0.85,"color":"#000"},
{"offset":0.855,"color":"#000"},{"offset":0.855,"color":"#fff"},{"offset":0.86,"color":"#fff"},{"offset":0.86,"color":"#000"},
{"offset":0.865,"color":"#000"},{"offset":0.865,"color":"#fff"},{"offset":0.87,"color":"#fff"},{"offset":0.87,"color":"#000"},
{"offset":0.875,"color":"#000"},{"offset":0.875,"color":"#fff"},{"offset":0.88,"color":"#fff"},{"offset":0.88,"color":"#000"},
{"offset":0.885,"color":"#000"},{"offset":0.885,"color":"#fff"},{"offset":0.89,"color":"#fff"},{"offset":0.89,"color":"#000"},
{"offset":1,"color":"#000"}
   ]}}}
]
}
